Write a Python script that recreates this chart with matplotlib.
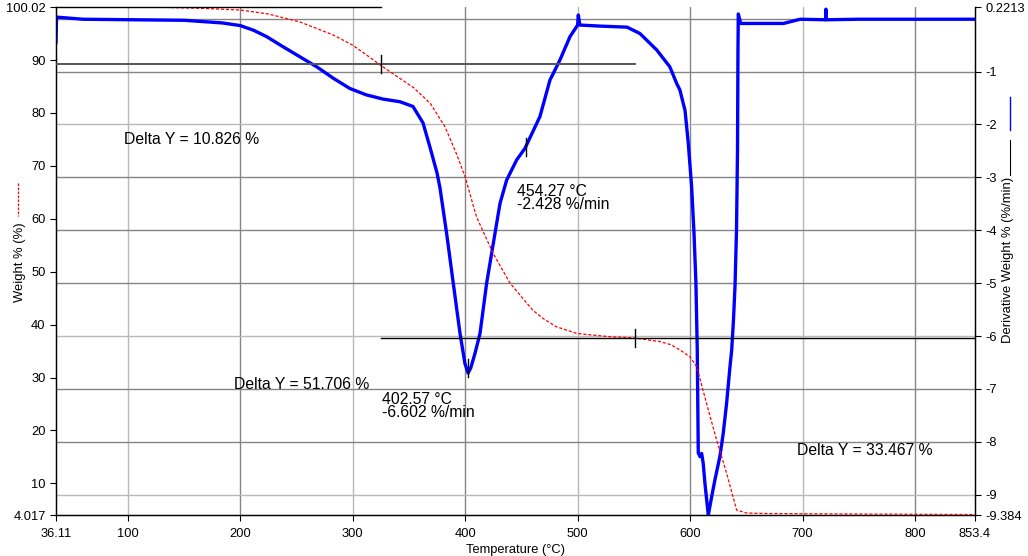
import matplotlib
matplotlib.use("Agg")
import matplotlib.pyplot as plt
from matplotlib.lines import Line2D

plt.rcParams['font.family'] = ['Liberation Sans', 'DejaVu Sans']

# ---------------- data ----------------
temp_w = [36.11, 60, 100, 133, 164, 200, 225, 253, 283, 300, 312, 324.2, 340, 354,
          369, 382, 392, 400, 410, 425, 440, 460, 469, 481, 499, 505, 529, 549.6,
          573, 583, 591, 600, 606, 611.5, 618, 623.6, 632.5, 641.4, 650, 667, 700,
          750, 800, 853.4]
weight = [100.02, 100.0, 99.98, 99.95, 99.78, 99.45, 98.7, 97.2, 94.7, 92.8, 91.0,
          89.1, 86.8, 84.8, 81.8, 77.4, 72.4, 67.9, 60.4, 53.4, 47.8, 42.75, 41.2,
          39.6, 38.35, 38.2, 37.7, 37.49, 36.8, 36.2, 35.2, 33.9, 32.0, 27.6, 22.5,
          18.2, 11.9, 4.96, 4.4, 4.3, 4.25, 4.2, 4.15, 4.1]

temp_d = [36.11, 36.6, 60, 105, 150, 184, 200, 212, 223.5, 238, 253, 268, 283,
          297.5, 312, 327, 342, 353.6, 362.5, 368.7, 375, 377.6, 383.5, 389.4,
          395.4, 399.8, 402.6, 405, 408.7, 413.2, 419.1, 425, 431, 436.9, 445.8,
          453.2, 466.5, 475.4, 484.3, 493.2, 500.0, 500.6, 502, 520, 544, 555.4,
          570.3, 582, 588, 591, 593.9, 595.5, 598.4, 601.4, 603.5, 605.2, 606.4,
          607.3, 608.8, 610.3, 611.7, 613.2, 616.2, 619.2, 622.1, 626.5, 629.5,
          632.5, 635.5, 637, 638.6, 640, 641.3, 642.2, 642.6, 642.9, 645, 683,
          698, 720.5, 720.8, 721.1, 750, 800, 853.4]
deriv = [-0.45, 0.03, -0.01, -0.02, -0.03, -0.08, -0.13, -0.22, -0.34, -0.53,
         -0.72, -0.91, -1.13, -1.32, -1.44, -1.52, -1.57, -1.66, -1.97, -2.43,
         -2.92, -3.2, -4.06, -5.0, -5.95, -6.52, -6.7, -6.6, -6.33, -5.95, -5.0,
         -4.25, -3.49, -3.05, -2.67, -2.45, -1.85, -1.16, -0.78, -0.34, -0.12,
         0.07, -0.12, -0.14, -0.16, -0.28, -0.59, -0.91, -1.22, -1.35, -1.6,
         -1.73, -2.35, -3.18, -4.05, -4.99, -6.27, -8.21, -8.28, -8.22, -8.41,
         -8.78, -9.384, -9.04, -8.72, -8.28, -7.84, -7.27, -6.58, -6.27, -5.7,
         -5.04, -4.0, -2.48, -0.59, 0.09, -0.09, -0.09, -0.01, -0.02, 0.18,
         -0.02, -0.01, -0.01, -0.01]

x_ticks = [36.11, 100, 200, 300, 400, 500, 600, 700, 800, 853.4]
x_tick_labels = ['36.11', '100', '200', '300', '400', '500', '600', '700', '800', '853.4']
left_ticks = [4.017, 10, 20, 30, 40, 50, 60, 70, 80, 90, 100.02]
left_tick_labels = ['4.017', '10', '20', '30', '40', '50', '60', '70', '80', '90', '100.02']
right_ticks = [-9.384, -9, -8, -7, -6, -5, -4, -3, -2, -1, 0.2213]
right_tick_labels = ['-9.384', '-9', '-8', '-7', '-6', '-5', '-4', '-3', '-2', '-1', '0.2213']
hgrid_vals = [0, -1, -2, -3, -4, -5, -6, -7, -8, -9]
vgrid_vals = [100, 200, 300, 400, 500, 600, 700, 800]

# step analysis
step_T = [325.1, 551.0]
step_levels = [100.02, 89.194, 37.488, 4.021]
step_texts = ['Delta Y = 10.826 %', 'Delta Y = 51.706 %', 'Delta Y = 33.467 %']
peak_T = [402.57, 454.27]
peak_D = [-6.602, -2.428]

# ---------------- figure ----------------
fig = plt.figure(figsize=(10.28, 5.56), dpi=100)
ax = fig.add_axes([56/1028, 1-515/556, 919/1028, 508/556])
ax2 = ax.twinx()
ax.set_zorder(2)
ax2.set_zorder(1)
ax.patch.set_visible(False)

xmin, xmax = 36.11, 853.4
ax.set_xlim(xmin, xmax)
ax.set_ylim(4.017, 100.02)
ax2.set_ylim(-9.384, 0.2213)

# grid
light, dark = '#b9b9b9', '#858585'
for i, v in enumerate(vgrid_vals):
    ax2.axvline(v, color=light if i % 2 == 0 else dark, lw=1.0, zorder=0)
hcols = [dark, dark, light, dark, dark, dark, light, dark, dark, light]
for v, c in zip(hgrid_vals, hcols):
    ax2.axhline(v, color=c, lw=1.0, zorder=0)

# curves
ax2.plot(temp_d, deriv, color='#0000ff', lw=2.4, zorder=3, solid_joinstyle='round')
ax.plot(temp_w, weight, color='#ff0000', lw=0.9, ls=(0, (2.5, 1.5)), zorder=3)

# step lines
ax.plot([xmin, step_T[0]], [step_levels[0]] * 2, color='black', lw=1.0, clip_on=False, zorder=4)
ax.plot([xmin, step_T[1]], [step_levels[1]] * 2, color='#555555', lw=1.4, zorder=4)
ax.plot([step_T[0], xmax], [step_levels[2]] * 2, color='black', lw=1.0, zorder=4)
ax.plot([step_T[0]] * 2, [step_levels[1] - 1.7, step_levels[1] + 1.7], color='black', lw=1.0, zorder=4)
ax.plot([step_T[1]] * 2, [step_levels[2] - 1.7, step_levels[2] + 1.7], color='black', lw=1.0, zorder=4)

# peak markers
for t, d in zip(peak_T, peak_D):
    ax2.plot([t, t], [d - 0.17, d + 0.17], color='black', lw=1.0, zorder=5)

# texts
fs = 11.3
ax.text(96.6, 74.9, step_texts[0], fontsize=fs, ha='left', va='center', zorder=6)
ax.text(194.4, 28.68, step_texts[1], fontsize=fs, ha='left', va='center', zorder=6)
ax.text(695.3, 16.3, step_texts[2], fontsize=fs, ha='left', va='center', zorder=6)
ax.text(325.6, 24.6, f'{peak_T[0]:.2f} °C\n{peak_D[0]:.3f} %/min', fontsize=fs,
        ha='left', va='center', linespacing=0.8, zorder=6)
ax.text(445.8, 63.85, f'{peak_T[1]:.2f} °C\n{peak_D[1]:.3f} %/min', fontsize=fs,
        ha='left', va='center', linespacing=0.82, zorder=6)

# ticks
ax.set_xticks(x_ticks)
ax.set_xticklabels(x_tick_labels)
ax.set_yticks(left_ticks)
ax.set_yticklabels(left_tick_labels)
ax2.set_yticks(right_ticks)
ax2.set_yticklabels(right_tick_labels)
for a in (ax, ax2):
    a.tick_params(axis='both', direction='out', length=4.5, width=0.8, pad=3,
                  labelsize=9.3, colors='black')
    a.spines['top'].set_visible(False)
    for s in ('left', 'right', 'bottom'):
        a.spines[s].set_linewidth(0.9)
        a.spines[s].set_color('black')
ax.tick_params(axis='x', pad=5)

ax.set_xlabel('Temperature (°C)', fontsize=9.3, labelpad=3)

# axis labels with line samples
fig.text(20/1028, 1-262/556, 'Weight % (%)', rotation=90, ha='center', va='center', fontsize=9.4)
fig.add_artist(Line2D([18.3/1028]*2, [1-183/556, 1-216/556], transform=fig.transFigure,
                      color='#ff0000', lw=0.9, ls=(0, (2, 1.2))))
fig.text(1008/1028, 1-260/556, 'Derivative Weight % (%/min)', rotation=90, ha='center',
         va='center', fontsize=9.4)
fig.add_artist(Line2D([1009.5/1028]*2, [1-140/556, 1-175/556], transform=fig.transFigure,
                      color='black', lw=0.8))
fig.add_artist(Line2D([1009.5/1028]*2, [1-97/556, 1-130/556], transform=fig.transFigure,
                      color='#0000ff', lw=1.0))

fig.savefig('out.png', dpi=100)
